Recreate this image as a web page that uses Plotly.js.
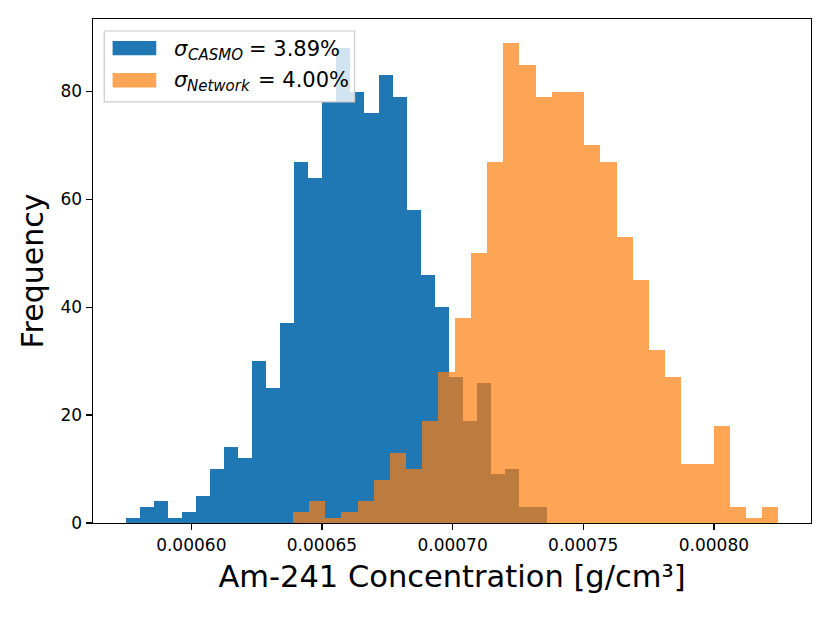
<!DOCTYPE html>
<html>
<head>
<meta charset="utf-8">
<script src="https://cdn.plot.ly/plotly-3.0.1.min.js"></script>
<style>html,body{margin:0;padding:0;background:#fff;}#chart{width:830px;height:623px;}</style>
</head>
<body>
<div id="chart"></div>
<script>
// Histogram counts (30 bins each)
const casmoCounts = [1,3,4,1,2,5,10,14,12,30,25,37,67,64,78,88,80,76,83,79,58,46,40,27,19,26,9,10,3,3];
const networkCounts = [2,4,1,2,4,8,13,10,19,28,38,50,67,89,85,79,80,80,70,67,53,45,32,27,11,11,18,3,1,3];
// Bin ranges [first edge, last edge] in g/cm^3
const casmoBinRange = [0.00057487, 0.00073617];
const networkBinRange = [0.00063885, 0.00082467];
// Axis ticks
const xTickVals = [0.00060, 0.00065, 0.00070, 0.00075, 0.00080];
const xTickText = ["0.00060", "0.00065", "0.00070", "0.00075", "0.00080"];
const yTickVals = [0, 20, 40, 60, 80];
// Legend label parts: symbol, subscript, value
const legendSymbols = ["σ", "σ"];
const legendSubs = ["CASMO", "Network"];
const legendValues = ["= 3.89%", "= 4.00%"];

function binCenters(range, n) {
  const w = (range[1] - range[0]) / n;
  const c = [];
  for (let i = 0; i < n; i++) c.push(range[0] + (i + 0.5) * w);
  return {centers: c, width: w};
}
const cb = binCenters(casmoBinRange, casmoCounts.length);
const nb = binCenters(networkBinRange, networkCounts.length);

const blue = '#1f77b4', orange = '#ff7f0e';
const traces = [
  {type: 'bar', x: cb.centers, y: casmoCounts, width: cb.width, name: 'CASMO',
   marker: {color: blue, line: {width: 0}}, opacity: 1, showlegend: false, hoverinfo: 'x+y'},
  {type: 'bar', x: nb.centers, y: networkCounts, width: nb.width, name: 'Network',
   marker: {color: orange, line: {width: 0}}, opacity: 0.7, showlegend: false, hoverinfo: 'x+y'}
];

const allMin = Math.min(casmoBinRange[0], networkBinRange[0]);
const allMax = Math.max(casmoBinRange[1], networkBinRange[1]);
const pad = 0.05 * (allMax - allMin);
const yMax = Math.max(...casmoCounts, ...networkCounts) * 1.05;

const font = 'DejaVu Sans, sans-serif';
function ann(x, y, text, size, italic) {
  return {xref: 'paper', yref: 'paper', x: x, y: y, xanchor: 'left', yanchor: 'middle',
    text: italic ? '<i>' + text + '</i>' : text, showarrow: false, borderpad: 0,
    font: {family: font, size: size, color: '#000'}};
}
const layout = {
  width: 830, height: 623,
  margin: {l: 93, r: 19, t: 18.5, b: 100},
  paper_bgcolor: '#fff', plot_bgcolor: '#fff',
  barmode: 'overlay', bargap: 0,
  font: {family: font, color: '#000'},
  xaxis: {
    range: [allMin - pad, allMax + pad],
    tickvals: xTickVals, ticktext: xTickText,
    showline: true, mirror: true, linecolor: '#000', linewidth: 1.4,
    ticks: 'outside', ticklen: 6, tickwidth: 1.4, tickcolor: '#000',
    showgrid: false, zeroline: false,
    tickfont: {family: font, size: 17, color: '#000'},
    title: {text: 'Am-241 Concentration [g/cm³]', font: {family: font, size: 30.5, color: '#000'}, standoff: 12}
  },
  yaxis: {
    range: [0, yMax],
    tickvals: yTickVals,
    showline: true, mirror: true, linecolor: '#000', linewidth: 1.4,
    ticks: 'outside', ticklen: 6, tickwidth: 1.4, tickcolor: '#000',
    showgrid: false, zeroline: false,
    tickfont: {family: font, size: 17, color: '#000'},
    title: {text: 'Frequency', font: {family: font, size: 30, color: '#000'}, standoff: 8}
  },
  shapes: [
    {type: 'rect', xref: 'paper', yref: 'paper', x0: 0.0157, x1: 0.3643, y0: 0.8355, y1: 0.9762,
     fillcolor: 'rgba(255,255,255,0.8)', line: {color: '#cccccc', width: 1.2}, layer: 'above'},
    {type: 'rect', xref: 'paper', yref: 'paper', x0: 0.0273, x1: 0.0881, y0: 0.9281, y1: 0.9564,
     fillcolor: blue, line: {width: 0}, layer: 'above'},
    {type: 'rect', xref: 'paper', yref: 'paper', x0: 0.0273, x1: 0.0881, y0: 0.8641, y1: 0.8930,
     fillcolor: 'rgba(255,127,14,0.7)', line: {width: 0}, layer: 'above'}
  ],
  annotations: [
    ann(0.1113, 0.9409, legendSymbols[0], 21, true),
    ann(0.1308, 0.9290, legendSubs[0], 15, true),
    ann(0.2163, 0.9409, legendValues[0], 21, false),
    ann(0.1113, 0.8795, legendSymbols[1], 21, true),
    ann(0.1294, 0.8676, legendSubs[1], 15, true),
    ann(0.2290, 0.8795, legendValues[1], 21, false)
  ]
};

Plotly.newPlot('chart', traces, layout, {displayModeBar: false, staticPlot: true});
</script>
</body>
</html>
